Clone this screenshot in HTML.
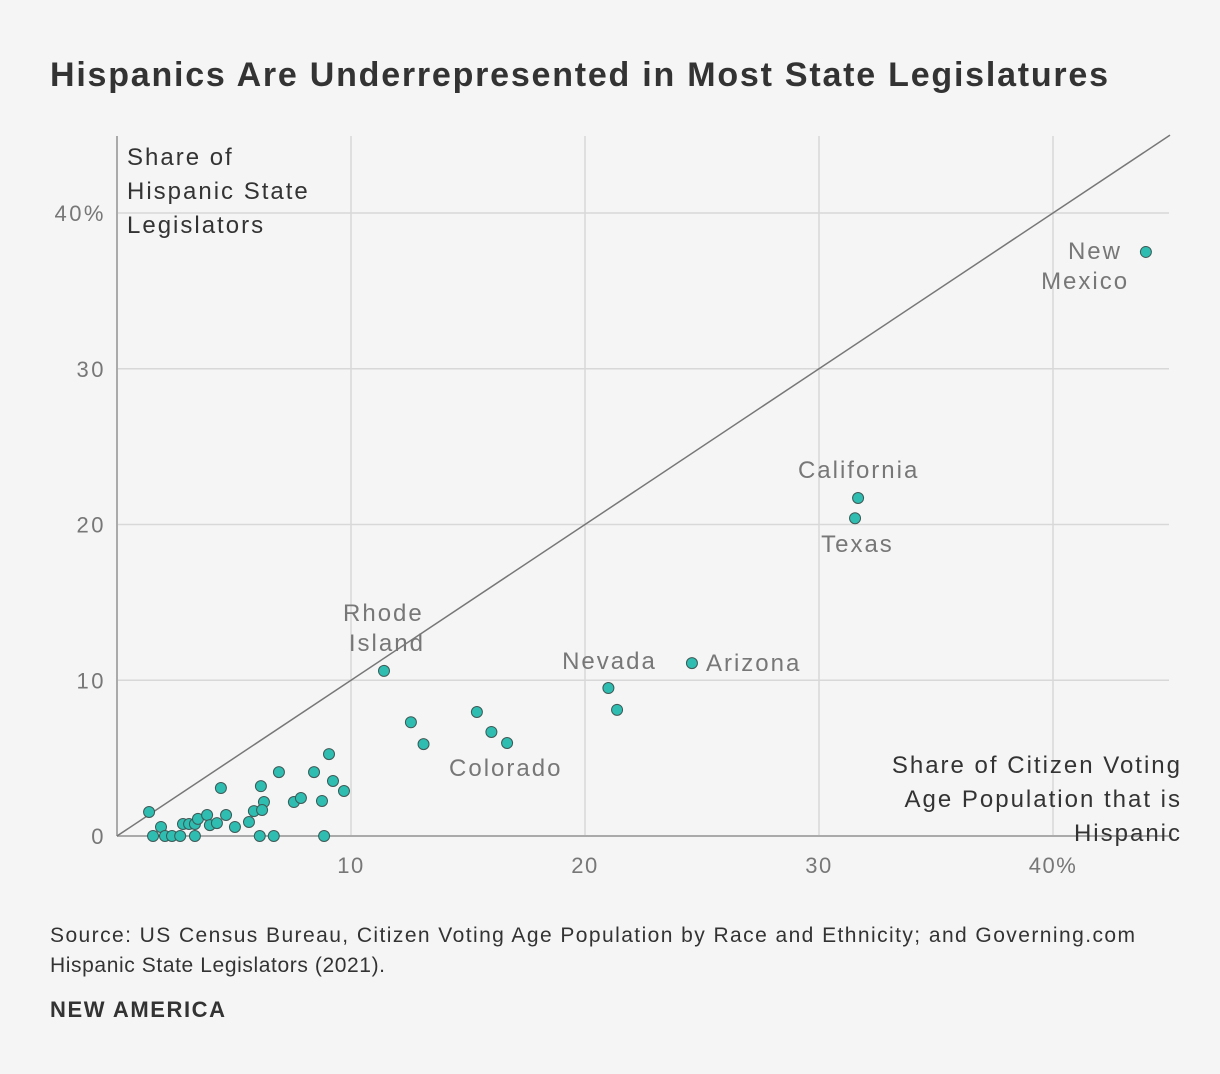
<!DOCTYPE html>
<html><head><meta charset="utf-8"><style>
body{margin:0;background:#f5f5f5;font-family:"Liberation Sans",sans-serif;}
svg{display:block}
</style></head><body>
<svg width="1220" height="1074" id="c">
<rect width="1220" height="1074" fill="#f5f5f5"/>
<text x="50" y="86" font-size="34" font-weight="bold" fill="#333" textLength="1058" lengthAdjust="spacing">Hispanics Are Underrepresented in Most State Legislatures</text>
<g id="grid"></g>
<g id="axes"></g>
<g id="pts"></g>
<text font-size="24" fill="#333" letter-spacing="2"><tspan x="127" y="165">Share of</tspan><tspan x="127" y="199">Hispanic State</tspan><tspan x="127" y="233">Legislators</tspan></text>
<text font-size="24" fill="#333" text-anchor="end" letter-spacing="2"><tspan x="1182" y="773">Share of Citizen Voting</tspan><tspan x="1182" y="807">Age Population that is</tspan><tspan x="1182" y="841">Hispanic</tspan></text>
<text font-size="21" fill="#333"><tspan x="50" y="942" textLength="1085" lengthAdjust="spacing">Source: US Census Bureau, Citizen Voting Age Population by Race and Ethnicity; and Governing.com</tspan><tspan x="50" y="972" textLength="335" lengthAdjust="spacing">Hispanic State Legislators (2021).</tspan></text>
<text x="50" y="1017" font-size="22" font-weight="bold" fill="#333" textLength="175" lengthAdjust="spacing">NEW AMERICA</text>
</svg>
<script>
const xVals=[1.37,1.54,1.88,2.05,2.35,2.7,2.82,3.08,3.33,3.33,3.46,3.85,3.97,4.27,4.44,4.66,5.04,5.64,5.85,6.15,6.1,6.28,6.2,6.7,6.92,7.56,7.86,8.42,8.76,8.85,9.06,9.23,9.7,11.41,12.56,13.1,15.38,16.0,16.67,21.0,21.37,24.57,31.67,31.54,43.97];
const yVals=[1.54,0,0.58,0,0,0,0.77,0.77,0.77,0,1.1,1.35,0.7,0.83,3.08,1.35,0.58,0.9,1.6,3.2,0,2.18,1.67,0,4.1,2.18,2.44,4.1,2.25,0,5.26,3.53,2.89,10.6,7.3,5.9,7.96,6.68,5.97,9.5,8.1,11.1,21.7,20.4,37.5];
const xTicks=[10,20,30,40];
const yTicks=[10,20,30,40];
const xTickLabels=["10","20","30","40%"];
const yTickLabels=["10","20","30","40%"];
const labels=[["Rhode",9.66,13.8],["Island",9.91,11.88],["Nevada",19.02,10.72],["Arizona",25.17,10.6],["California",29.1,23.0],["Texas",30.09,18.23],["Colorado",14.19,3.85],["New",40.64,37.05],["Mexico",39.49,35.12]];
const ns="http://www.w3.org/2000/svg";
const X=v=>117+v*23.4, Y=v=>836-v*15.575;
function mk(t,a,p){const e=document.createElementNS(ns,t);for(const k in a)e.setAttribute(k,a[k]);p.appendChild(e);return e;}
const g=document.getElementById('grid'),ax=document.getElementById('axes'),pts=document.getElementById('pts');
xTicks.forEach((t,i)=>{const l=mk('line',{x1:X(t),x2:X(t),y1:136,y2:836,stroke:'#d8d8d8','stroke-width':1.5},g);


const tx=mk('text',{x:X(t),y:873,'text-anchor':'middle','font-size':22,fill:'#777','letter-spacing':1.5},ax);tx.textContent=xTickLabels[i];

});
yTicks.forEach((t,i)=>{const l=mk('line',{x1:117,x2:1169,y1:Y(t),y2:Y(t),stroke:'#d8d8d8','stroke-width':1.5},g);


const tx=mk('text',{x:106,y:Y(t)+8,'text-anchor':'end','font-size':22,fill:'#777','letter-spacing':2.5},ax);tx.textContent=yTickLabels[i];

});
const z=mk('text',{x:106,y:844,'text-anchor':'end','font-size':22,fill:'#777','letter-spacing':2.5},ax);z.textContent='0';


const ya=mk('line',{x1:117,x2:117,y1:136,y2:836,stroke:'#aaa','stroke-width':2},ax);


const xa=mk('line',{x1:117,x2:1169,y1:836,y2:836,stroke:'#aaa','stroke-width':2},ax);


const d=mk('line',{x1:X(0),y1:Y(0),x2:X(45),y2:Y(45),stroke:'#777','stroke-width':1.5},ax);


xVals.forEach((v,i)=>{const c=mk('circle',{cx:X(v),cy:Y(yVals[i]),r:5.5,fill:'#2ebdb0',stroke:'#3d5a57','stroke-width':1},pts);

});
labels.forEach(l=>{const t=mk('text',{x:X(l[1]),y:Y(l[2]),'font-size':24,fill:'#777','letter-spacing':2},ax);t.textContent=l[0];

});
</script>
</body></html>
